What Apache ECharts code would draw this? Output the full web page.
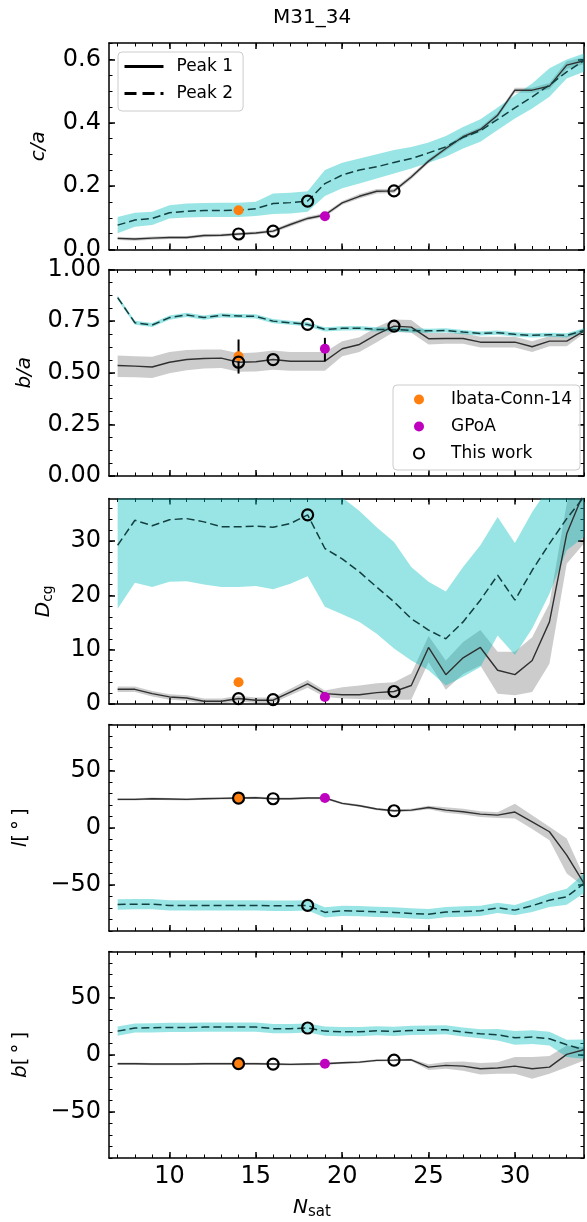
<!DOCTYPE html>
<html><head><meta charset="utf-8">
<script src="https://cdn.jsdelivr.net/npm/echarts@6/dist/echarts.min.js"></script>
<style>html,body{margin:0;padding:0;background:#fff}#c{width:587px;height:1222px}</style>
</head><body><div id="c"></div>
<script>
// ---------------- DATA ----------------
const nSat = [7,8,9,10,11,12,13,14,15,16,17,18,19,20,21,22,23,24,25,26,27,28,29,30,31,32,33,34];
const xMajor = [10,15,20,25,30];
const xMinor = [7,8,9,10,11,12,13,14,15,16,17,18,19,20,21,22,23,24,25,26,27,28,29,30,31,32,33,34];

// c/a
const caP1   = [0.035,0.033,0.036,0.038,0.038,0.044,0.045,0.049,0.052,0.058,0.079,0.098,0.109,0.147,0.168,0.184,0.185,0.229,0.279,0.319,0.356,0.379,0.424,0.503,0.503,0.516,0.582,0.596];
const caP1Lo = [0.030,0.028,0.031,0.033,0.033,0.039,0.040,0.044,0.047,0.053,0.073,0.092,0.103,0.141,0.161,0.177,0.178,0.222,0.272,0.312,0.349,0.372,0.416,0.495,0.495,0.506,0.570,0.585];
const caP1Hi = [0.040,0.038,0.041,0.043,0.043,0.049,0.050,0.054,0.057,0.063,0.085,0.104,0.115,0.153,0.175,0.191,0.192,0.236,0.286,0.326,0.363,0.386,0.432,0.511,0.511,0.526,0.594,0.607];
const caP2   = [0.077,0.093,0.098,0.116,0.121,0.123,0.123,0.124,0.129,0.145,0.148,0.153,0.208,0.235,0.251,0.261,0.275,0.287,0.305,0.324,0.354,0.375,0.411,0.447,0.482,0.519,0.561,0.596];
const caP2Lo = [0.051,0.072,0.077,0.098,0.101,0.103,0.103,0.103,0.106,0.112,0.114,0.119,0.169,0.193,0.208,0.224,0.240,0.256,0.274,0.293,0.319,0.340,0.377,0.414,0.445,0.482,0.540,0.561];
const caP2Hi = [0.103,0.116,0.119,0.140,0.145,0.147,0.148,0.148,0.151,0.177,0.179,0.184,0.251,0.274,0.287,0.301,0.314,0.324,0.338,0.358,0.387,0.411,0.448,0.487,0.524,0.572,0.600,0.619];

// b/a
const baP1   = [0.535,0.532,0.528,0.551,0.564,0.569,0.571,0.551,0.553,0.564,0.556,0.556,0.556,0.616,0.637,0.686,0.726,0.721,0.665,0.666,0.666,0.648,0.648,0.648,0.626,0.653,0.653,0.702];
const baP1Lo = [0.480,0.478,0.475,0.497,0.512,0.520,0.523,0.505,0.506,0.515,0.510,0.510,0.510,0.580,0.600,0.648,0.697,0.694,0.637,0.640,0.640,0.622,0.622,0.622,0.600,0.628,0.628,0.690];
const baP1Hi = [0.583,0.580,0.578,0.600,0.610,0.613,0.613,0.595,0.598,0.608,0.600,0.600,0.600,0.653,0.672,0.722,0.758,0.756,0.692,0.692,0.692,0.674,0.674,0.674,0.652,0.678,0.678,0.714];
const baP2   = [0.864,0.742,0.731,0.767,0.780,0.767,0.778,0.775,0.773,0.750,0.742,0.734,0.710,0.715,0.716,0.710,0.710,0.705,0.703,0.705,0.697,0.690,0.694,0.686,0.681,0.684,0.681,0.705];
const baP2Lo = [0.854,0.732,0.721,0.757,0.770,0.757,0.768,0.765,0.763,0.740,0.732,0.724,0.700,0.705,0.706,0.700,0.700,0.695,0.693,0.695,0.687,0.680,0.684,0.676,0.671,0.674,0.671,0.695];
const baP2Hi = [0.874,0.752,0.741,0.777,0.790,0.777,0.788,0.785,0.783,0.760,0.752,0.744,0.720,0.725,0.726,0.720,0.720,0.715,0.713,0.715,0.707,0.700,0.704,0.696,0.691,0.694,0.691,0.715];

// D_cg
const dcP1   = [2.7,2.7,1.9,1.3,1.1,0.5,0.5,1.0,0.7,0.7,2.2,3.7,1.9,1.7,1.7,2.1,2.3,3.4,10.4,5.4,8.5,10.4,6.2,5.4,8.0,15.1,31.3,39.0];
const dcP1Lo = [2.2,2.2,1.4,0.8,0.6,0.0,0.0,0.5,0.2,0.2,1.6,3.0,1.3,1.0,0.9,0.8,0.8,0.8,7.7,2.6,5.5,7.1,1.9,1.6,2.2,7.4,25.8,29.5];
const dcP1Hi = [3.2,3.2,2.4,1.8,1.6,1.0,1.0,1.5,1.2,1.2,2.8,4.4,2.5,3.1,3.4,3.8,4.0,5.6,12.5,8.0,11.4,13.6,9.6,9.6,12.3,18.5,36.9,45.0];
const dcP2   = [29.2,33.8,32.8,33.9,34.1,33.5,32.6,32.6,32.7,32.5,33.2,34.8,28.6,26.7,24.3,21.5,18.8,15.7,13.6,12.0,15.1,19.1,23.7,19.1,24.6,29.5,34.1,38.1];
const dcP2Lo = [17.5,22.3,21.5,22.5,22.6,22.0,21.5,21.5,21.7,21.1,22.1,23.5,17.9,16.5,15.1,12.9,10.2,8.0,6.2,3.4,5.0,6.8,12.6,9.0,13.9,20.3,28.3,30.7];
const dcP2Hi = [44,44,44,44,44,44,44,44,44,44,44,44,41.0,38.0,35.5,32.5,29.8,25.2,22.5,20.7,25.2,29.2,34.4,29.6,35.3,40.0,42.0,44.0];

// l [deg]
const lP1   = [24.7,24.7,25.3,25.0,24.7,25.3,25.6,25.9,26.2,25.3,25.3,25.9,25.9,21.2,19.2,16.3,14.8,15.4,17.7,15.4,14.0,11.9,11.0,13.7,5.2,-3.5,-23.8,-48.5];
const lP1Lo = [23.7,23.7,24.3,24.0,23.7,24.3,24.6,24.9,25.2,24.3,24.3,24.9,24.9,20.2,18.2,15.3,13.8,14.2,16.2,13.0,11.5,9.4,8.5,8.0,-1.0,-10.8,-39.8,-51.5];
const lP1Hi = [25.7,25.7,26.3,26.0,25.7,26.3,26.6,26.9,27.2,26.3,26.3,26.9,26.9,22.2,20.2,17.3,15.8,16.6,19.2,17.8,16.5,14.4,13.5,21.0,11.0,0.9,-9.3,-42.7];
const lP2   = [-66.9,-66.6,-66.6,-67.7,-67.7,-67.7,-67.7,-67.7,-67.7,-68.0,-68.0,-67.7,-73.8,-72.4,-72.7,-73.3,-73.8,-74.7,-75.3,-73.5,-73.0,-72.4,-69.8,-71.8,-68.0,-63.1,-60.2,-48.5];
const lP2Lo = [-71.4,-71.1,-71.1,-72.2,-72.2,-72.2,-72.2,-72.2,-72.2,-72.5,-72.5,-72.2,-78.3,-76.9,-77.2,-77.8,-78.3,-79.2,-79.8,-78.0,-77.5,-76.9,-74.3,-76.3,-73.5,-69.1,-67.2,-57.0];
const lP2Hi = [-62.4,-62.1,-62.1,-63.2,-63.2,-63.2,-63.2,-63.2,-63.2,-63.5,-63.5,-63.2,-69.3,-67.9,-68.2,-68.8,-69.3,-70.2,-70.8,-69.0,-68.5,-67.9,-65.3,-67.3,-62.5,-57.1,-53.2,-39.8];

// b [deg]
const bP1   = [-7.8,-7.8,-8.1,-8.1,-8.1,-7.8,-7.8,-7.8,-7.8,-8.1,-8.4,-8.1,-7.8,-7.0,-6.4,-4.9,-4.7,-4.4,-10.8,-9.3,-9.9,-12.2,-11.6,-9.9,-12.2,-10.8,0.3,4.4];
const bP1Lo = [-8.8,-8.8,-9.1,-9.1,-9.1,-8.8,-8.8,-8.8,-8.8,-9.1,-9.4,-9.1,-8.8,-8.0,-7.4,-5.9,-5.7,-5.4,-13.3,-12.3,-13.9,-17.2,-16.6,-16.6,-20.9,-16.6,-11.0,-5.0];
const bP1Hi = [-6.8,-6.8,-7.1,-7.1,-7.1,-6.8,-6.8,-6.8,-6.8,-7.1,-7.4,-7.1,-6.8,-6.0,-5.4,-3.9,-3.7,-3.4,-8.3,-6.3,-5.9,-7.2,-6.6,-2.0,-2.0,-1.0,8.1,6.7];
const bP2   = [20.6,23.3,23.5,23.8,23.8,24.1,24.1,24.1,24.1,22.7,22.7,23.3,20.6,20.1,20.1,20.9,20.3,21.2,21.5,21.8,19.8,18.3,17.4,14.8,15.4,14.0,8.7,4.4];
const bP2Lo = [16.6,19.3,19.5,19.8,19.8,20.1,20.1,20.1,20.1,18.7,18.7,19.3,16.6,16.1,16.1,16.9,16.3,17.2,17.5,17.8,15.8,14.3,12.4,8.8,9.4,8.0,-2.0,-3.5];
const bP2Hi = [24.6,27.3,27.5,27.8,27.8,28.1,28.1,28.1,28.1,26.7,26.7,27.3,24.6,24.1,24.1,24.9,24.3,25.2,25.5,25.8,23.8,22.3,22.4,20.8,21.4,20.0,13.0,13.4];

// Points: "This work" (N = 14,16,18,23), Ibata-Conn-14 (N=14), GPoA (N=19)
const twN  = [14,16,18,23];
const twCA = [0.049,0.058,0.153,0.185];
const twBA = [0.551,0.564,0.734,0.726];
const twDC = [1.0,0.8,34.8,2.3];
const twL  = [25.9,25.3,-67.7,14.8];
const twB  = [-7.8,-8.1,23.3,-4.7];
const ibN = 14;
const ibVals = [0.124,0.580,4.0,25.9,-7.8];
const ibBAerr = [0.496,0.661];
const gpN = 19;
const gpVals = [0.105,0.616,1.3,25.9,-7.8];
const gpBAerr = [0.556,0.669];

// Tick labels
const caTicks = [0,0.2,0.4,0.6];
const caMinor = [0,0.05,0.1,0.15,0.2,0.25,0.3,0.35,0.4,0.45,0.5,0.55,0.6,0.65];
const baTicks = [0,0.25,0.5,0.75,1];
const baMinor = [0,0.0625,0.125,0.1875,0.25,0.3125,0.375,0.4375,0.5,0.5625,0.625,0.6875,0.75,0.8125,0.875,0.9375,1];
const dcTicks = [0,10,20,30];
const dcMinor = [0,2,4,6,8,10,12,14,16,18,20,22,24,26,28,30,32,34,36];
const angTicks = [-50,0,50];
const angMinor = [-90,-80,-70,-60,-50,-40,-30,-20,-10,0,10,20,30,40,50,60,70,80,90];

// ---------------- LAYOUT ----------------
const FONT = 'DejaVu Sans';
const GL = 109, GW = 475;
const panels = [
  {top:43,  h:206.5, min:0, max:0.652, major:caTicks, minor:caMinor, fmt:v=>v.toFixed(1),
   name:'{i|c/a}', gap:60, p1:caP1,p1Lo:caP1Lo,p1Hi:caP1Hi,p2:caP2,p2Lo:caP2Lo,p2Hi:caP2Hi, tw:twCA},
  {top:269.5, h:206.5, min:0, max:1, major:baTicks, minor:baMinor, fmt:v=>v.toFixed(2),
   name:'{i|b/a}', gap:74, p1:baP1,p1Lo:baP1Lo,p1Hi:baP1Hi,p2:baP2,p2Lo:baP2Lo,p2Hi:baP2Hi, tw:twBA},
  {top:498.5, h:205.5, min:0, max:37.8, major:dcTicks, minor:dcMinor, fmt:v=>String(v),
   name:'{i|D}{s|cg}', gap:54, p1:dcP1,p1Lo:dcP1Lo,p1Hi:dcP1Hi,p2:dcP2,p2Lo:dcP2Lo,p2Hi:dcP2Hi, tw:twDC},
  {top:724.5, h:206.5, min:-90, max:90, major:angTicks, minor:angMinor, fmt:v=>String(v).replace('-','\u2212'),
   name:'{i|l}{n|[\u2009°\u2009]}', gap:78, p1:lP1,p1Lo:lP1Lo,p1Hi:lP1Hi,p2:lP2,p2Lo:lP2Lo,p2Hi:lP2Hi, tw:twL},
  {top:951.5, h:206.5, min:-90, max:90, major:angTicks, minor:angMinor, fmt:v=>String(v).replace('-','\u2212'),
   name:'{i|b}{n|[\u2009°\u2009]}', gap:78, p1:bP1,p1Lo:bP1Lo,p1Hi:bP1Hi,p2:bP2,p2Lo:bP2Lo,p2Hi:bP2Hi, tw:twB}
];

const grid = [], xAxis = [], yAxis = [], series = [];
const AX = {color:'#000', width:1.5};

function axisDef(gi, pos, min, max, vals, isMajor, label) {
  const a = {
    type:'value', gridIndex:gi, position:pos, min:min, max:max, scale:false,
    axisLine:{show:isMajor, onZero:false, lineStyle:AX},
    axisTick:{show:true, inside:true, length:isMajor?6:3.5, customValues:vals,
              lineStyle:{color:'#000', width:isMajor?1.5:1}},
    axisLabel:{show:false},
    splitLine:{show:false}, minorTick:{show:false}, minorSplitLine:{show:false}
  };
  if (label) a.axisLabel = label;
  return a;
}

panels.forEach((p, g) => {
  grid.push({left:GL, width:GW, top:p.top, height:p.h, containLabel:false});
  const xLab = g === 4 ? {show:true, customValues:xMajor, margin:7, color:'#000',
      fontFamily:FONT, fontSize:24, formatter:v=>String(v)} : null;
  xAxis.push(axisDef(g, 'bottom', 6.5, 34, xMajor, true, xLab));
  xAxis.push(axisDef(g, 'bottom', 6.5, 34, xMinor, false));
  xAxis.push(axisDef(g, 'top', 6.5, 34, xMajor, true));
  xAxis.push(axisDef(g, 'top', 6.5, 34, xMinor, false));
  const yLab = {show:true, customValues:p.major, margin:8, color:'#000',
      fontFamily:FONT, fontSize:24, formatter:p.fmt};
  const yMain = axisDef(g, 'left', p.min, p.max, p.major, true, yLab);
  yMain.name = p.name;
  yMain.nameLocation = 'middle';
  yMain.nameGap = p.gap;
  yMain.nameTextStyle = {color:'#000', fontFamily:FONT, fontSize:20, rich:{
    i:{fontStyle:'italic', fontSize:20, fontFamily:FONT, color:'#000'},
    n:{fontSize:20, fontFamily:FONT, color:'#000'},
    s:{fontSize:14, fontFamily:FONT, color:'#000', verticalAlign:'bottom', padding:[9,0,0,0]}
  }};
  yAxis.push(yMain);
  yAxis.push(axisDef(g, 'left', p.min, p.max, p.minor, false));
  yAxis.push(axisDef(g, 'right', p.min, p.max, p.major, true));
  yAxis.push(axisDef(g, 'right', p.min, p.max, p.minor, false));

  const xi = 4*g, yi = 4*g;
  const bandRender = (fill) => function (params, api) {
    if (params.dataIndexInside !== 0) return null;
    const n = params.dataInsideLength, up = [], dn = [];
    for (let i = 0; i < n; i++) {
      const x = api.value(0, i);
      up.push(api.coord([x, api.value(2, i)]));
      dn.push(api.coord([x, api.value(1, i)]));
    }
    const cs = params.coordSys;
    return {type:'polygon', shape:{points:up.concat(dn.reverse())}, style:{fill:fill},
      clipPath:{type:'rect', shape:{x:cs.x, y:cs.y, width:cs.width, height:cs.height}}};
  };
  series.push({type:'custom', name:'band1_'+g, xAxisIndex:xi, yAxisIndex:yi, z:1, silent:true,
    encode:{x:0, y:[1,2]}, renderItem:bandRender('rgba(0,0,0,0.2)'),
    data:nSat.map((n,i)=>[n, p.p1Lo[i], p.p1Hi[i]])});
  series.push({type:'custom', name:'band2_'+g, xAxisIndex:xi, yAxisIndex:yi, z:1, silent:true,
    encode:{x:0, y:[1,2]}, renderItem:bandRender('rgba(0,191,191,0.4)'),
    data:nSat.map((n,i)=>[n, p.p2Lo[i], p.p2Hi[i]])});
  series.push({type:'line', name:'Peak 1', xAxisIndex:xi, yAxisIndex:yi, z:3, symbol:'none', clip:true,
    lineStyle:{color:'#303030', width:1.4}, itemStyle:{color:'#303030'},
    data:nSat.map((n,i)=>[n, p.p1[i]])});
  series.push({type:'line', name:'Peak 2', xAxisIndex:xi, yAxisIndex:yi, z:3, symbol:'none', clip:true,
    lineStyle:{color:'#123f40', width:1.5, type:[8,4]}, itemStyle:{color:'#123f40'},
    data:nSat.map((n,i)=>[n, p.p2[i]])});
  if (g === 1) {
    series.push({type:'custom', name:'err', xAxisIndex:xi, yAxisIndex:yi, z:4, silent:true,
      encode:{x:0, y:[1,2]},
      renderItem:function (params, api) {
        const a = api.coord([api.value(0), api.value(1)]);
        const b = api.coord([api.value(0), api.value(2)]);
        return {type:'line', shape:{x1:a[0], y1:a[1], x2:b[0], y2:b[1]},
          style:{stroke:'#000', lineWidth:2}};
      },
      data:[[ibN, ibBAerr[0], ibBAerr[1]], [gpN, gpBAerr[0], gpBAerr[1]]]});
  }
  series.push({type:'scatter', name:'Ibata-Conn-14', xAxisIndex:xi, yAxisIndex:yi, z:5,
    symbol:'circle', symbolSize:10, itemStyle:{color:'#ff7f0e', opacity:1},
    data:[[ibN, ibVals[g]]]});
  series.push({type:'scatter', name:'GPoA', xAxisIndex:xi, yAxisIndex:yi, z:5,
    symbol:'circle', symbolSize:10, itemStyle:{color:'#bf00bf', opacity:1},
    data:[[gpN, gpVals[g]]]});
  series.push({type:'scatter', name:'This work', xAxisIndex:xi, yAxisIndex:yi, z:6,
    symbol:'circle', symbolSize:11, itemStyle:{color:'rgba(0,0,0,0)', borderColor:'#000', borderWidth:2.2, opacity:1},
    data:twN.map((n,i)=>[n, p.tw[i]])});
});

const option = {
  animation:false,
  backgroundColor:'#fff',
  title:[
    {text:'M31_34', left:273, top:8, padding:0,
     textStyle:{fontFamily:FONT, fontSize:20, fontWeight:'normal', color:'#000'}},
    {text:'{i|N}{s|sat}', left:293, top:1196, padding:0,
     textStyle:{fontFamily:FONT, fontSize:20, fontWeight:'normal', color:'#000',
       rich:{i:{fontStyle:'italic', fontSize:20, fontFamily:FONT, color:'#000'},
             s:{fontSize:15, fontFamily:FONT, color:'#000', verticalAlign:'bottom', padding:[9,0,0,0]}}}}
  ],
  legend:[
    {data:[{name:'Peak 1'}, {name:'Peak 2', lineStyle:{type:[12,6]}}], orient:'vertical', left:118, top:52,
     padding:[6,10,9,5], itemGap:10, itemWidth:39, itemHeight:16,
     backgroundColor:'rgba(255,255,255,0.8)', borderColor:'#cccccc', borderWidth:1, borderRadius:4,
     lineStyle:{width:3, color:'#000'}, itemStyle:{opacity:0, color:'rgba(0,0,0,0)', borderWidth:0},
     textStyle:{fontFamily:FONT, fontSize:17, color:'#000', lineHeight:16, padding:[0,0,0,8]},
     selectedMode:false},
    {data:['Ibata-Conn-14','GPoA','This work'], orient:'vertical', left:393, top:385,
     padding:[6,8,8,20], itemGap:10, itemWidth:10, itemHeight:16, icon:'circle',
     backgroundColor:'rgba(255,255,255,0.8)', borderColor:'#cccccc', borderWidth:1, borderRadius:4,
     textStyle:{fontFamily:FONT, fontSize:17, color:'#000', lineHeight:16, padding:[0,0,0,22]},
     selectedMode:false}
  ],
  grid:grid, xAxis:xAxis, yAxis:yAxis, series:series
};

const chart = echarts.init(document.getElementById('c'), null, {renderer:'canvas'});
chart.setOption(option);
</script>
</body></html>
